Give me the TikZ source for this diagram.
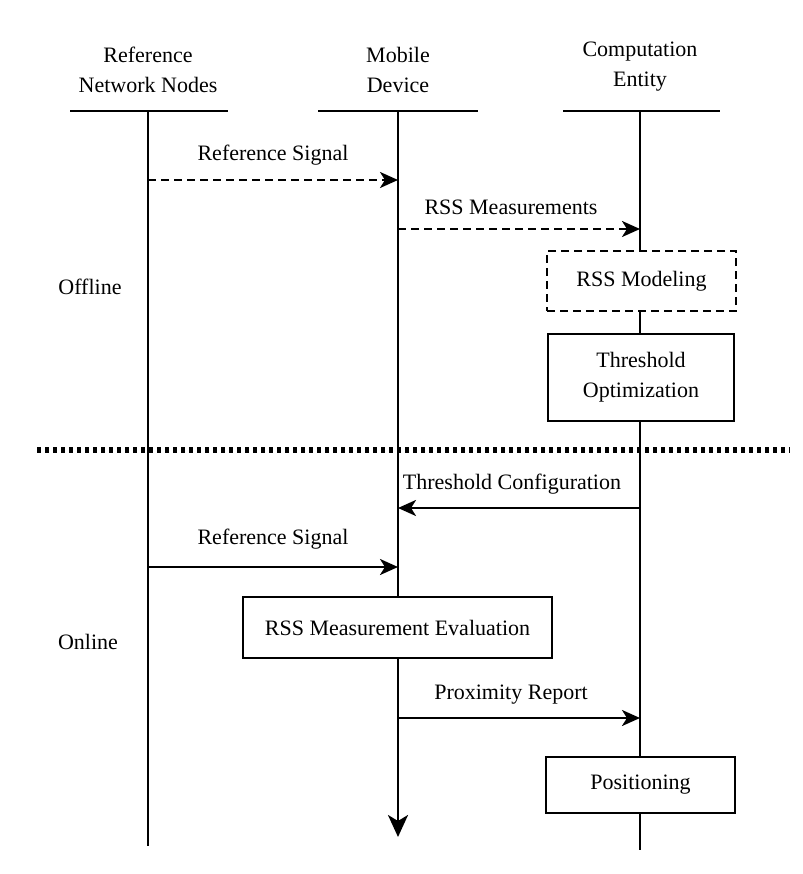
\documentclass[tikz,border=0pt]{standalone}
\usepackage{fontspec}
\setmainfont{Liberation Serif}
\usetikzlibrary{arrows.meta}
\begin{document}
\begin{tikzpicture}[x=1pt,y=-1pt,
  lbl/.style={font=\fontsize{22}{30}\selectfont, align=center, inner sep=0pt},
  life/.style={line width=2.8pt},
  msg/.style={line width=2.6pt, -{Stealth[length=18pt,width=16pt,inset=5pt]}},
  dmsg/.style={msg, dash pattern=on 8pt off 5pt},
  box/.style={draw, fill=white, line width=2.8pt, font=\fontsize{22}{30}\selectfont, align=center, inner sep=0pt}
]
\useasboundingbox (0,0) rectangle (802,874);
% headers
\node[lbl] (h1) at (148,70) {Reference\\Network Nodes};
\node[lbl] (h2) at (398,70) {Mobile\\Device};
\node[lbl] (h3) at (640,67) {Computation\\Entity};
\coordinate (b1l) at (70,111); \coordinate (b1r) at (228,111);
\coordinate (b2l) at (318,111); \coordinate (b2r) at (478,111);
\coordinate (b3l) at (563,111); \coordinate (b3r) at (720,111);
\draw[life] (b1l) -- (b1r);
\draw[life] (b2l) -- (b2r);
\draw[life] (b3l) -- (b3r);
% lifelines
\coordinate (l1t) at (148,111); \coordinate (l1b) at (148,846);
\coordinate (l2t) at (398,111); \coordinate (l2b) at (398,837);
\coordinate (l3t) at (640,111); \coordinate (l3b) at (640,850);
\draw[life] (l1t) -- (l1b);
\draw[life, -{Stealth[length=22pt,width=20pt,inset=6pt]}] (l2t) -- (l2b);
% boxes on right lifeline
\node[box, dash pattern=on 8pt off 5pt, minimum width=189pt, minimum height=60pt] (m) at (641.5,281) {RSS Modeling};
\node[box, minimum width=186pt, minimum height=87pt] (t) at (641,377.5) {Threshold\\Optimization};
\node[box, minimum width=309pt, minimum height=61pt] (e) at (397.5,627.5) {RSS Measurement Evaluation};
\node[box, minimum width=189pt, minimum height=56pt] (p) at (640.5,785) {Positioning};
\draw[life] (l3t) -- (m.north -| l3t);
\draw[life] (m.south -| l3t) -- (t.north -| l3t);
\draw[life] (t.south -| l3t) -- (p.north -| l3t);
\draw[life] (p.south -| l3t) -- (l3b);
% separator
\coordinate (s1) at (37,450); \coordinate (s2) at (790,450);
\draw[line width=6pt, dash pattern=on 4pt off 4pt] (s1) -- (s2);
% phase labels
\node[lbl] (off) at (90,287) {Offline};
\node[lbl] (on) at (88,642) {Online};
% messages
\coordinate (a1s) at (148,180); \coordinate (a1e) at (398,180);
\draw[dmsg] (a1s) -- (a1e) node[lbl, midway, above=13pt] {Reference Signal};
\coordinate (a2s) at (398,229); \coordinate (a2e) at (640,229);
\draw[dmsg] (a2s) -- (a2e) node[lbl, midway, above=13pt, xshift=-8pt] {RSS Measurements};
\coordinate (a3s) at (640,508); \coordinate (a3e) at (398,508);
\draw[msg] (a3s) -- (a3e) node[lbl, midway, above=12pt, xshift=-7pt] {Threshold Configuration};
\coordinate (a4s) at (148,567); \coordinate (a4e) at (398,567);
\draw[msg] (a4s) -- (a4e) node[lbl, midway, above=16pt] {Reference Signal};
\coordinate (a5s) at (398,718); \coordinate (a5e) at (640,718);
\draw[msg] (a5s) -- (a5e) node[lbl, midway, above=12pt, xshift=-8pt] {Proximity Report};
\end{tikzpicture}
\end{document}
